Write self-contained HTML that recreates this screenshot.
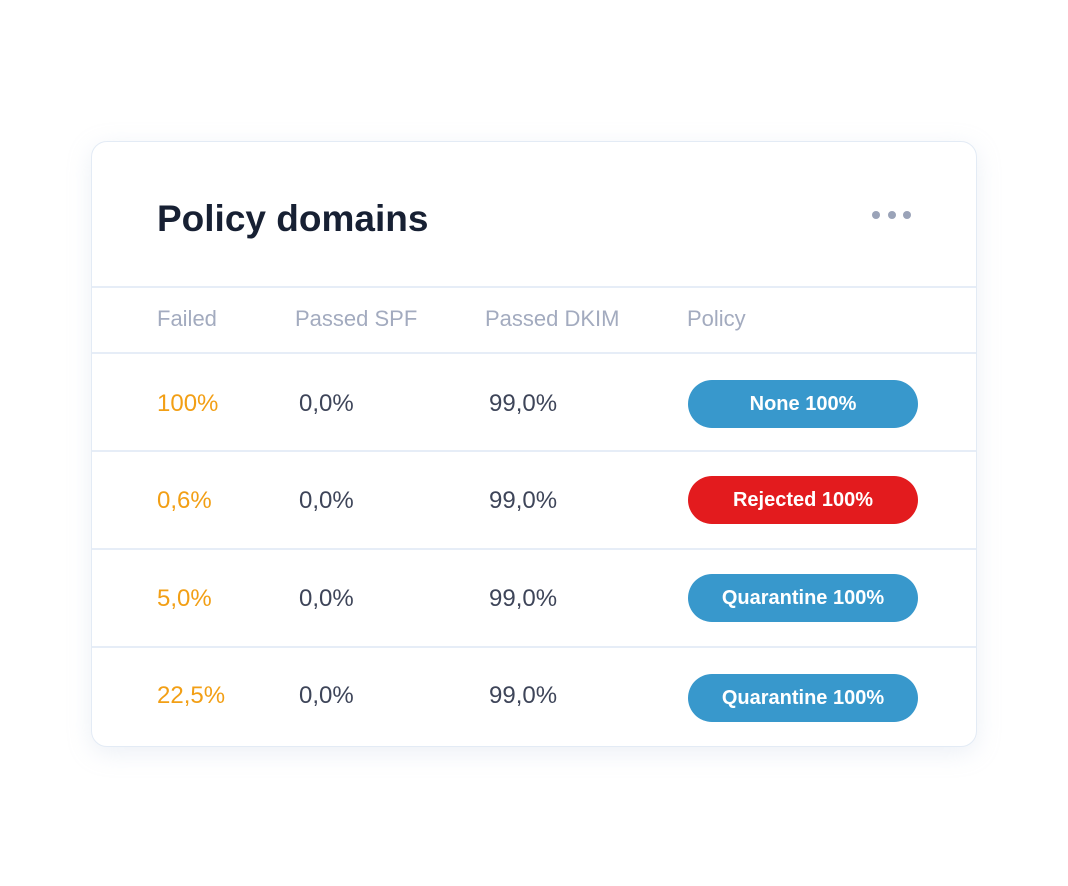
<!DOCTYPE html>
<html><head><style>
*{margin:0;padding:0;box-sizing:border-box}
body{width:1068px;height:886px;background:#fff;position:relative;font-family:"Liberation Sans",sans-serif;overflow:hidden}
.card{position:absolute;left:91px;top:141px;width:886px;height:606px;border:1.5px solid #e3ebf5;border-radius:16px;background:#fff;box-shadow:0 6px 24px rgba(180,195,220,0.25)}
.t{position:absolute;white-space:nowrap;line-height:1}
.line{position:absolute;left:92px;width:884px;height:2px;background:#e6edf7}
.h{color:#a3abbf;font-size:22px}
.o{color:#f29f15;font-size:24px}
.v{color:#3e4559;font-size:24px}
.pill{position:absolute;left:688px;width:230px;height:48px;border-radius:24px;color:#fff;font-size:20px;font-weight:bold;display:flex;align-items:center;justify-content:center}
.b{background:#3898cc}.r{background:#e31b1e}
.dot{position:absolute;top:211px;width:8px;height:8px;border-radius:50%;background:#9aa3b8}
</style></head><body>
<div class="card"></div>
<div class="t" style="left:157px;top:200px;font-size:37px;font-weight:bold;color:#172033">Policy domains</div>
<div class="dot" style="left:872px"></div><div class="dot" style="left:888px"></div><div class="dot" style="left:903px"></div>
<div class="line" style="top:286px"></div>
<div class="line" style="top:352px"></div>
<div class="line" style="top:450px"></div>
<div class="line" style="top:548px"></div>
<div class="line" style="top:646px"></div>
<div class="t h" style="left:157px;top:308px">Failed</div>
<div class="t h" style="left:295px;top:308px">Passed SPF</div>
<div class="t h" style="left:485px;top:308px">Passed DKIM</div>
<div class="t h" style="left:687px;top:308px">Policy</div>

<div class="t o" style="left:157px;top:392px">100%</div>
<div class="t v" style="left:299px;top:392px">0,0%</div>
<div class="t v" style="left:489px;top:392px">99,0%</div>
<div class="pill b" style="top:380px">None 100%</div>

<div class="t o" style="left:157px;top:489px">0,6%</div>
<div class="t v" style="left:299px;top:489px">0,0%</div>
<div class="t v" style="left:489px;top:489px">99,0%</div>
<div class="pill r" style="top:476px">Rejected 100%</div>

<div class="t o" style="left:157px;top:587px">5,0%</div>
<div class="t v" style="left:299px;top:587px">0,0%</div>
<div class="t v" style="left:489px;top:587px">99,0%</div>
<div class="pill b" style="top:574px">Quarantine 100%</div>

<div class="t o" style="left:157px;top:684px">22,5%</div>
<div class="t v" style="left:299px;top:684px">0,0%</div>
<div class="t v" style="left:489px;top:684px">99,0%</div>
<div class="pill b" style="top:674px">Quarantine 100%</div>
</body></html>
